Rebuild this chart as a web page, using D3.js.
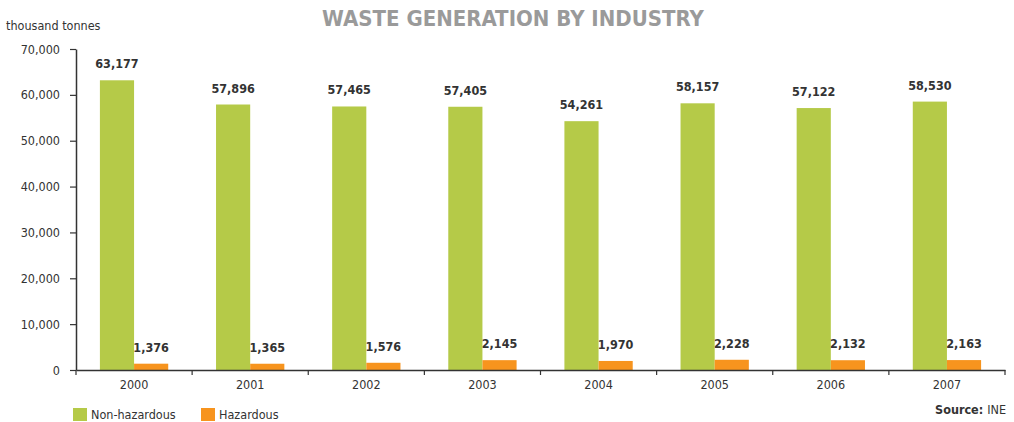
<!DOCTYPE html>
<html>
<head>
<meta charset="utf-8">
<script src="https://cdn.jsdelivr.net/npm/d3@7"></script>
<style>
  body { margin: 0; background: #fff; }
  svg text { font-family: "DejaVu Sans Condensed", "DejaVu Sans", sans-serif; }
</style>
</head>
<body>
<script>
// datos del grafico
const years = ["2000", "2001", "2002", "2003", "2004", "2005", "2006", "2007"];
const nonHazardous = [63177, 57896, 57465, 57405, 54261, 58157, 57122, 58530];
const hazardous = [1376, 1365, 1576, 2145, 1970, 2228, 2132, 2163];
const yTicks = [0, 10000, 20000, 30000, 40000, 50000, 60000, 70000];
const seriesNames = ["Non-hazardous", "Hazardous"];
const colores = ["#b5ca48", "#f7941e"];

let width = 1014, height = 422;
let margin = { top: 49, bottom: 52, left: 76, right: 9 };

const svg = d3.select("body").append("svg")
  .attr("width", width).attr("height", height);

/* Escalas */
let escalaY = d3.scaleLinear()
  .domain([0, 70000])
  .range([height - margin.bottom, margin.top]);

let escalaX = d3.scaleBand()
  .domain(years)
  .range([margin.left, width - margin.right]);

let escalaSerie = d3.scaleBand()
  .domain(seriesNames)
  .range([0, escalaX.bandwidth()])
  .paddingInner(0)
  .paddingOuter(0.7);

const datos = years.map((y, i) => ({ year: y, valores: [nonHazardous[i], hazardous[i]] }));
const fmt = d3.format(",");

/* Barras */
const grupos = svg.selectAll("g.grupo").data(datos).join("g")
  .attr("class", "grupo")
  .attr("transform", d => "translate(" + escalaX(d.year) + ",0)");

grupos.selectAll("rect")
  .data(d => d.valores.map((v, j) => ({ serie: seriesNames[j], v: v, j: j })))
  .join("rect")
  .attr("x", d => escalaSerie(d.serie))
  .attr("y", d => escalaY(d.v))
  .attr("width", escalaSerie.bandwidth())
  .attr("height", d => escalaY(0) - escalaY(d.v))
  .attr("fill", d => colores[d.j]);

grupos.selectAll("text.val")
  .data(d => d.valores.map((v, j) => ({ serie: seriesNames[j], v: v })))
  .join("text")
  .attr("class", "val")
  .attr("x", d => escalaSerie(d.serie) + escalaSerie.bandwidth() / 2)
  .attr("y", d => escalaY(d.v) - 12)
  .attr("text-anchor", "middle")
  .style("font-size", "12.5px")
  .style("font-weight", "bold")
  .style("fill", "#333")
  .text(d => fmt(d.v));

/* Eje Y */
const ejeY = svg.append("g")
  .attr("transform", "translate(" + margin.left + ",0)")
  .call(d3.axisLeft(escalaY).tickValues(yTicks).tickFormat(fmt).tickSize(6).tickPadding(10).tickSizeOuter(0));
ejeY.select(".domain").attr("stroke", "#333").attr("stroke-width", 1.5);
ejeY.selectAll(".tick line").attr("stroke", "#333").attr("stroke-width", 1.2);
ejeY.selectAll("text").style("font-size", "12.5px").style("fill", "#333")
  .style("font-family", "'DejaVu Sans Condensed', sans-serif");

/* Eje X */
const ejeX = svg.append("g")
  .attr("transform", "translate(0," + (height - margin.bottom) + ")")
  .call(d3.axisBottom(escalaX).tickSize(0).tickPadding(10).tickSizeOuter(0));
ejeX.select(".domain").attr("stroke", "#333").attr("stroke-width", 1.5);
ejeX.selectAll("text").style("font-size", "12.5px").style("fill", "#333")
  .style("font-family", "'DejaVu Sans Condensed', sans-serif");

// separadores entre categorias
svg.append("g").selectAll("line")
  .data(years.map(y => escalaX(y)).concat([escalaX(years[years.length - 1]) + escalaX.bandwidth()]))
  .join("line")
  .attr("x1", d => d).attr("x2", d => d)
  .attr("y1", escalaY(0)).attr("y2", escalaY(0) + 5)
  .attr("stroke", "#333").attr("stroke-width", 1.2);

/* Titulo y etiquetas */
svg.append("text")
  .attr("x", 513).attr("y", 26)
  .attr("text-anchor", "middle")
  .style("font-size", "22px").style("font-weight", "bold").style("fill", "#9a9a9a")
  .text("WASTE GENERATION BY INDUSTRY");

svg.append("text")
  .attr("x", 6).attr("y", 30)
  .style("font-size", "12.5px").style("fill", "#333")
  .text("thousand tonnes");

/* Leyenda */
const leyenda = svg.append("g").selectAll("g").data(seriesNames).join("g")
  .attr("transform", (d, i) => "translate(" + (73 + i * 128) + ",408)");
leyenda.append("rect").attr("width", 14).attr("height", 13).attr("fill", (d, i) => colores[i]);
leyenda.append("text").attr("x", 18).attr("y", 11)
  .style("font-size", "12.5px").style("fill", "#333").text(d => d);

const fuente = svg.append("text")
  .attr("x", 1006).attr("y", 414)
  .attr("text-anchor", "end")
  .style("font-size", "12.5px").style("fill", "#333");
fuente.append("tspan").style("font-weight", "bold").text("Source: ");
fuente.append("tspan").text("INE");
</script>
</body>
</html>
